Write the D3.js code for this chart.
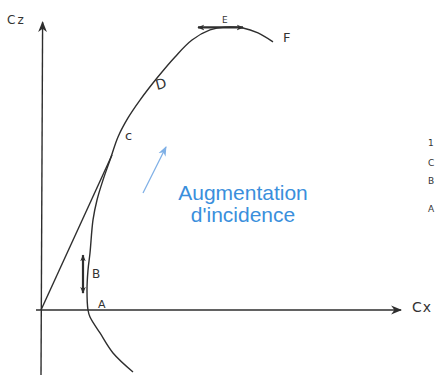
<!DOCTYPE html>
<html>
<head>
<meta charset="utf-8">
<script src="https://cdn.jsdelivr.net/npm/d3@7"></script>
<style>
  html, body { margin: 0; padding: 0; background: #fff; }
  svg { display: block; }
  .hand { font-family: "DejaVu Sans", sans-serif; fill: #333; }
</style>
</head>
<body>
<div id="chart"></div>
<script>
// polar curve Cz = f(Cx)
const curveCx = [0.046, 0.036, 0.0295, 0.0245, 0.0235, 0.023, 0.0235, 0.0245, 0.026, 0.028, 0.031, 0.0345, 0.0385, 0.0435, 0.0495, 0.058, 0.067, 0.0755, 0.0845, 0.092, 0.101, 0.1085, 0.116]
const curveCz = [-0.326, -0.226, -0.121, -0.037, 0, 0.105, 0.21, 0.3, 0.474, 0.579, 0.684, 0.789, 0.911, 1.011, 1.105, 1.221, 1.332, 1.421, 1.474, 1.489, 1.484, 1.458, 1.411]

// tangent from origin to the polar (point C)
const tangentCx = [0, 0.0355]
const tangentCz = [0, 0.816]

// double arrows: B (vertical) and E (horizontal)
const arrowB = { cx: [0.021, 0.021], cz: [0.089, 0.289] }
const arrowE = { cx: [0.0785, 0.101], cz: [1.487, 1.487] }

// blue arrow "Augmentation d'incidence"
const incidenceCx = [0.051, 0.0625]
const incidenceCz = [0.616, 0.858]
const incidenceText = ["Augmentation", "d'incidence"]

const pointNames = ["A", "B", "c", "D", "E", "F"]
const pointCx = [0.0285, 0.0255, 0.042, 0.058, 0.0905, 0.121]
const pointCz = [0.0105, 0.168, 0.895, 1.158, 1.51, 1.41]

// notes cut by the right edge of the scan
const edgeNotes = ["1", "C", "B", "A"]
const edgeCz = [0.863, 0.758, 0.663, 0.516]

const width = 436, height = 375

const svg = d3.select("#chart").append("svg")
	.attr("width", width)
	.attr("height", height)

const x = d3.scaleLinear().domain([0, 0.18]).range([41, 401])
const y = d3.scaleLinear().domain([0, 1.5]).range([310, 25])

const ink = "#2e2e2e"

const defs = svg.append("defs")
function marker(id, color, size) {
	defs.append("marker")
		.attr("id", id)
		.attr("viewBox", "0 0 10 10")
		.attr("refX", 9).attr("refY", 5)
		.attr("markerWidth", size).attr("markerHeight", size)
		.attr("markerUnits", "userSpaceOnUse")
		.attr("orient", "auto-start-reverse")
		.append("path")
		.attr("d", "M0,1 L10,5 L0,9 L3,5 Z")
		.attr("fill", color)
}
marker("axisHead", ink, 11)
marker("smallHead", ink, 7)
marker("blueHead", "#7fb0e6", 10)

// axes
svg.append("line")
	.attr("x1", x(-0.0025)).attr("y1", y(0))
	.attr("x2", x(0.18)).attr("y2", y(0))
	.attr("stroke", ink).attr("stroke-width", 1.4)
	.attr("marker-end", "url(#axisHead)")
svg.append("line")
	.attr("x1", x(0)).attr("y1", y(-0.35))
	.attr("x2", x(0.0008)).attr("y2", y(1.515))
	.attr("stroke", ink).attr("stroke-width", 1.4)
	.attr("marker-end", "url(#axisHead)")

svg.append("text").attr("class", "hand")
	.attr("x", 7).attr("y", 24)
	.attr("font-size", 12).attr("letter-spacing", 2)
	.text("Cz")
svg.append("text").attr("class", "hand")
	.attr("x", 412).attr("y", 312)
	.attr("font-size", 14).attr("letter-spacing", 1)
	.text("Cx")

// polar curve
const line = d3.line()
	.x(d => x(d[0]))
	.y(d => y(d[1]))
	.curve(d3.curveCatmullRom.alpha(0.5))

svg.append("path")
	.datum(d3.zip(curveCx, curveCz))
	.attr("d", line)
	.attr("fill", "none")
	.attr("stroke", ink)
	.attr("stroke-width", 1.4)

svg.append("path")
	.datum(d3.zip(tangentCx, tangentCz))
	.attr("d", d3.line().x(d => x(d[0])).y(d => y(d[1])))
	.attr("fill", "none")
	.attr("stroke", ink)
	.attr("stroke-width", 1.4)

// B and E double arrows
;[arrowB, arrowE].forEach(a => {
	svg.append("line")
		.attr("x1", x(a.cx[0])).attr("y1", y(a.cz[0]))
		.attr("x2", x(a.cx[1])).attr("y2", y(a.cz[1]))
		.attr("stroke", ink).attr("stroke-width", 2.2)
		.attr("marker-start", "url(#smallHead)")
		.attr("marker-end", "url(#smallHead)")
})

// point labels
const fontSizes = { A: 11, B: 12, c: 13, D: 14, E: 9, F: 13 }
d3.zip(pointNames, pointCx, pointCz).forEach(([n, cx, cz]) => {
	const t = svg.append("text").attr("class", "hand")
		.attr("x", x(cx)).attr("y", y(cz))
		.attr("font-size", fontSizes[n])
		.attr("fill", "#444")
		.text(n)
	if (n === "D") t.attr("transform", `rotate(-15, ${x(cx)}, ${y(cz)})`)
})

edgeNotes.forEach((n, i) => {
	svg.append("text").attr("class", "hand")
		.attr("x", 428).attr("y", y(edgeCz[i]))
		.attr("font-size", 9)
		.attr("fill", "#555")
		.text(n)
})

// incidence arrow and caption
svg.append("line")
	.attr("x1", x(incidenceCx[0])).attr("y1", y(incidenceCz[0]))
	.attr("x2", x(incidenceCx[1])).attr("y2", y(incidenceCz[1]))
	.attr("stroke", "#7fb0e6").attr("stroke-width", 1.3)
	.attr("marker-end", "url(#blueHead)")

svg.append("text")
	.attr("x", x(0.101)).attr("y", y(0.579))
	.attr("text-anchor", "middle")
	.attr("font-family", "'Liberation Sans', Arial, sans-serif")
	.attr("font-size", 21)
	.attr("fill", "#3a8fdc")
	.selectAll("tspan")
	.data(incidenceText)
	.join("tspan")
	.attr("x", x(0.101))
	.attr("dy", (d, i) => i === 0 ? 0 : 22.5)
	.text(d => d)
</script>
</body>
</html>
